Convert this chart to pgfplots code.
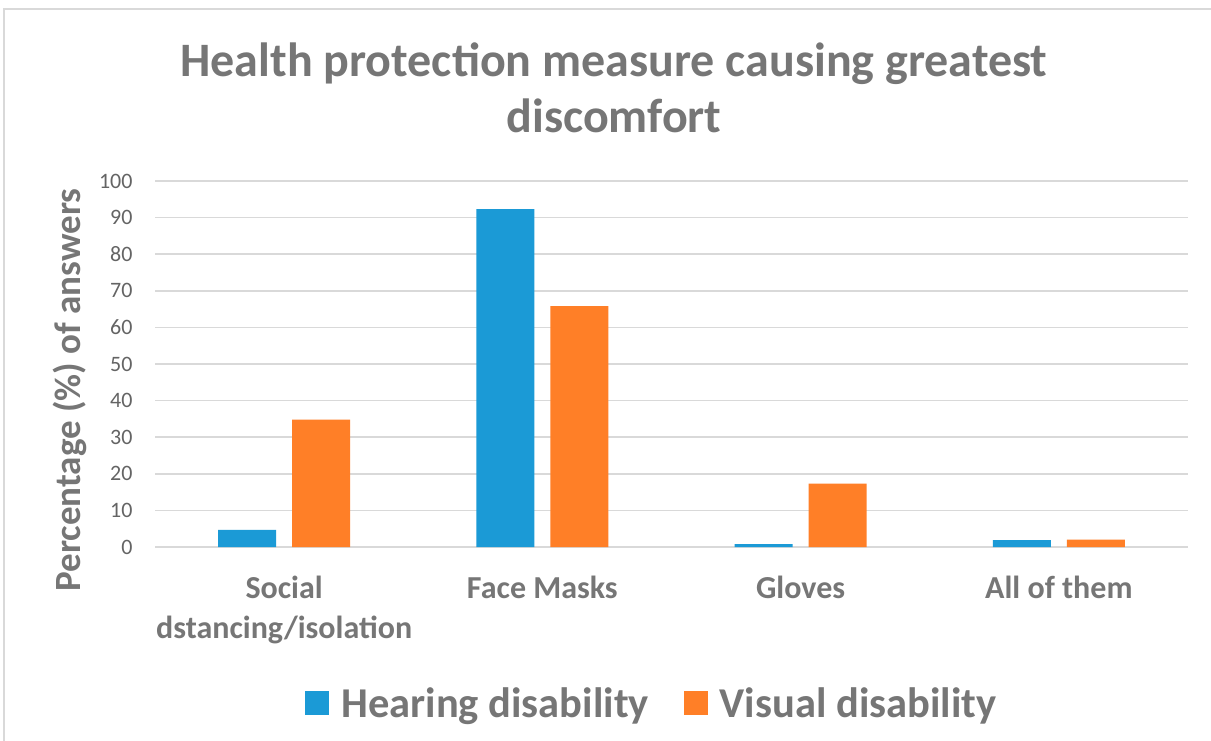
\documentclass[border=0pt]{standalone}
\usepackage{pgfplots}
\pgfplotsset{compat=1.18}
\usepackage{fontspec}
\setmainfont{Carlito}
\definecolor{hblue}{RGB}{27,154,214}
\definecolor{vorange}{RGB}{255,127,39}
\definecolor{txtgray}{RGB}{118,118,118}
\definecolor{tickgray}{RGB}{100,100,100}
\definecolor{gridgray}{RGB}{217,217,217}
\begin{document}
\begin{tikzpicture}[x=1pt,y=1pt]
\useasboundingbox (0,0) rectangle (1211,740);
\fill[white] (0,0) rectangle (1211,740);
\draw[gridgray, line width=1.5pt] (4,-5) rectangle (1220,731);
\node[anchor=base, text=txtgray, font=\fontsize{48}{56}\selectfont\bfseries] at (614,663) {Health protection measure causing greatest};
\node[anchor=base, text=txtgray, font=\fontsize{48}{56}\selectfont\bfseries] at (614,607) {discomfort};
\node[rotate=90, text=txtgray, font=\fontsize{37}{42}\selectfont\bfseries] at (70,350) {Percentage (\%) of answers};
\begin{axis}[
  at={(155pt,193pt)}, anchor=south west,
  scale only axis, width=1033pt, height=366pt,
  xmin=-0.5, xmax=3.5, ymin=0, ymax=100,
  ybar, bar width=58pt,
  axis line style={draw=none},
  ytick={0,10,...,100},
  ymajorgrids, grid style={gridgray, line width=1.5pt},
  major tick length=0pt,
  xtick={0,1,2,3},
  xticklabels={{Social\\dstancing/isolation},{Face Masks},{Gloves},{All of them}},
  xticklabel style={align=center, text=txtgray, font=\fontsize{32}{40}\selectfont\bfseries, yshift=-26pt},
  yticklabel style={text=tickgray, font=\fontsize{22}{26}\selectfont, xshift=-19pt},
  /pgf/number format/assume math mode=true,
  legend columns=2,
  legend style={at={(0.481,-0.426)}, anchor=center, draw=none, fill=none,
    font=\fontsize{42.5}{48}\selectfont\bfseries, text=txtgray,
    /tikz/every even column/.append style={column sep=33pt}},
  legend image code/.code={\fill[#1] (0pt,-12pt) rectangle (24pt,12pt); \path (34pt,0pt);},
]
\addplot[fill=hblue, draw=none, bar shift=-37pt] coordinates {(0,4.7) (1,92.3) (2,0.8) (3,1.9)};
\addplot[fill=vorange, draw=none, bar shift=37pt] coordinates {(0,34.8) (1,65.8) (2,17.3) (3,2.0)};
\legend{Hearing disability, Visual disability}
\end{axis}
\end{tikzpicture}
\end{document}
